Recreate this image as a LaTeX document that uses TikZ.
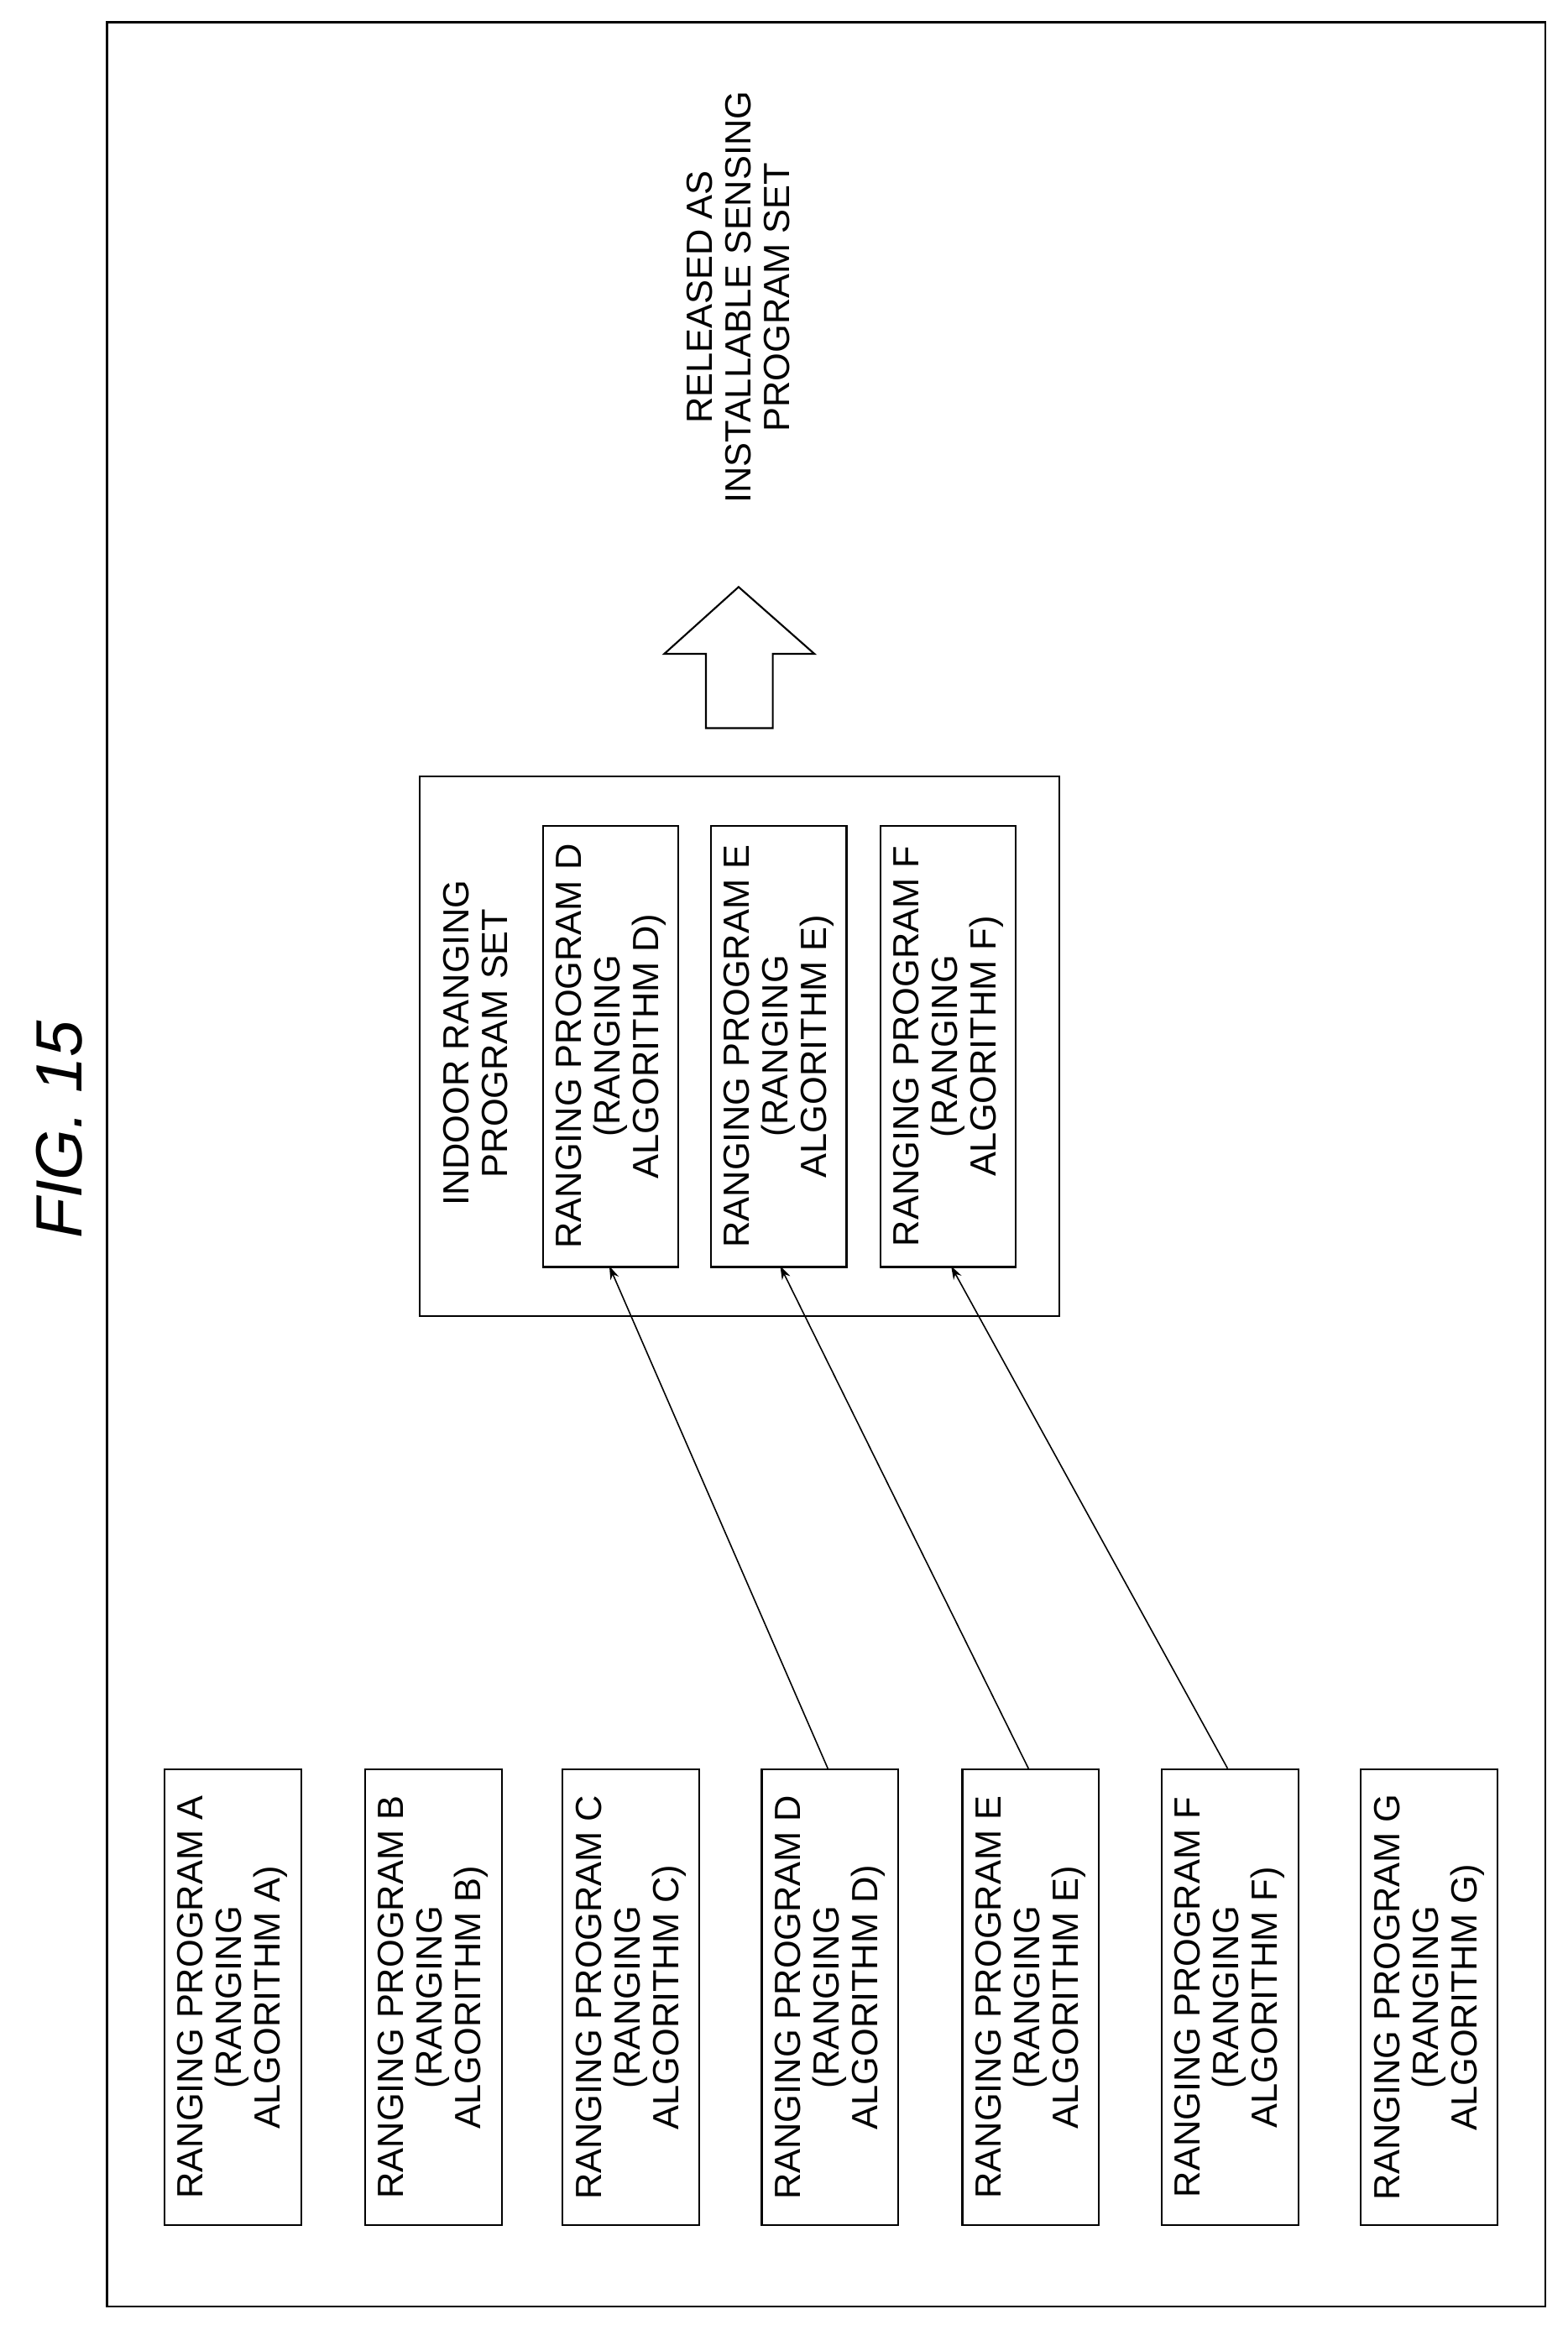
\documentclass[tikz,border=0pt]{standalone}
\usepackage{fontspec}
\setmainfont{Liberation Sans}
\usetikzlibrary{arrows.meta}
\begin{document}
\begin{tikzpicture}[x=1pt,y=-1pt,
  box/.style={draw,line width=1.2pt},
  lbl/.style={rotate=90,align=center,font=\fontsize{24.5}{26}\selectfont,inner sep=0pt},
  conn/.style={line width=0.9pt,-{Stealth[length=9pt,width=6pt]}}]
\useasboundingbox (0,0) rectangle (1055,1568);
\draw[line width=1.2pt] (72,15) rectangle (1040,1552);
\node[rotate=90,font=\fontsize{44}{48}\selectfont\itshape] (title) at (40,760) {FIG. 15};
\foreach \n/\x in {A/110,B/245,C/378,D/512,E/647,F/781,G/915}{
  \node[box,minimum width=92pt,minimum height=307pt,anchor=north west,inner sep=0pt] (L\n) at (\x,1190) {};
  \node[lbl] at (L\n.center) {RANGING PROGRAM \n\\(RANGING\\ALGORITHM \n)};
}
\node[box,minimum width=430pt,minimum height=363pt,anchor=north west,inner sep=0pt] (set) at (282,522) {};
\node[lbl] (settxt) at (320,702) {INDOOR RANGING\\PROGRAM SET};
\foreach \n/\x in {D/365,E/478,F/592}{
  \node[box,minimum width=91pt,minimum height=297pt,anchor=north west,inner sep=0pt] (I\n) at (\x,555) {};
  \node[lbl] at (I\n.center) {RANGING PROGRAM \n\\(RANGING\\ALGORITHM \n)};
}
\coordinate (sD) at (557,1190); \coordinate (tD) at (410,852);
\coordinate (sE) at (692,1190); \coordinate (tE) at (525,852);
\coordinate (sF) at (826,1190); \coordinate (tF) at (640,852);
\draw[conn] (sD) -- (tD);
\draw[conn] (sE) -- (tE);
\draw[conn] (sF) -- (tF);
\draw[line width=1.2pt] (475,490) -- (475,440) -- (447,440) -- (497,395) -- (548,440) -- (520,440) -- (520,490) -- cycle;
\node[lbl] (rel) at (497,200) {RELEASED AS\\INSTALLABLE SENSING\\PROGRAM SET};
\end{tikzpicture}
\end{document}
